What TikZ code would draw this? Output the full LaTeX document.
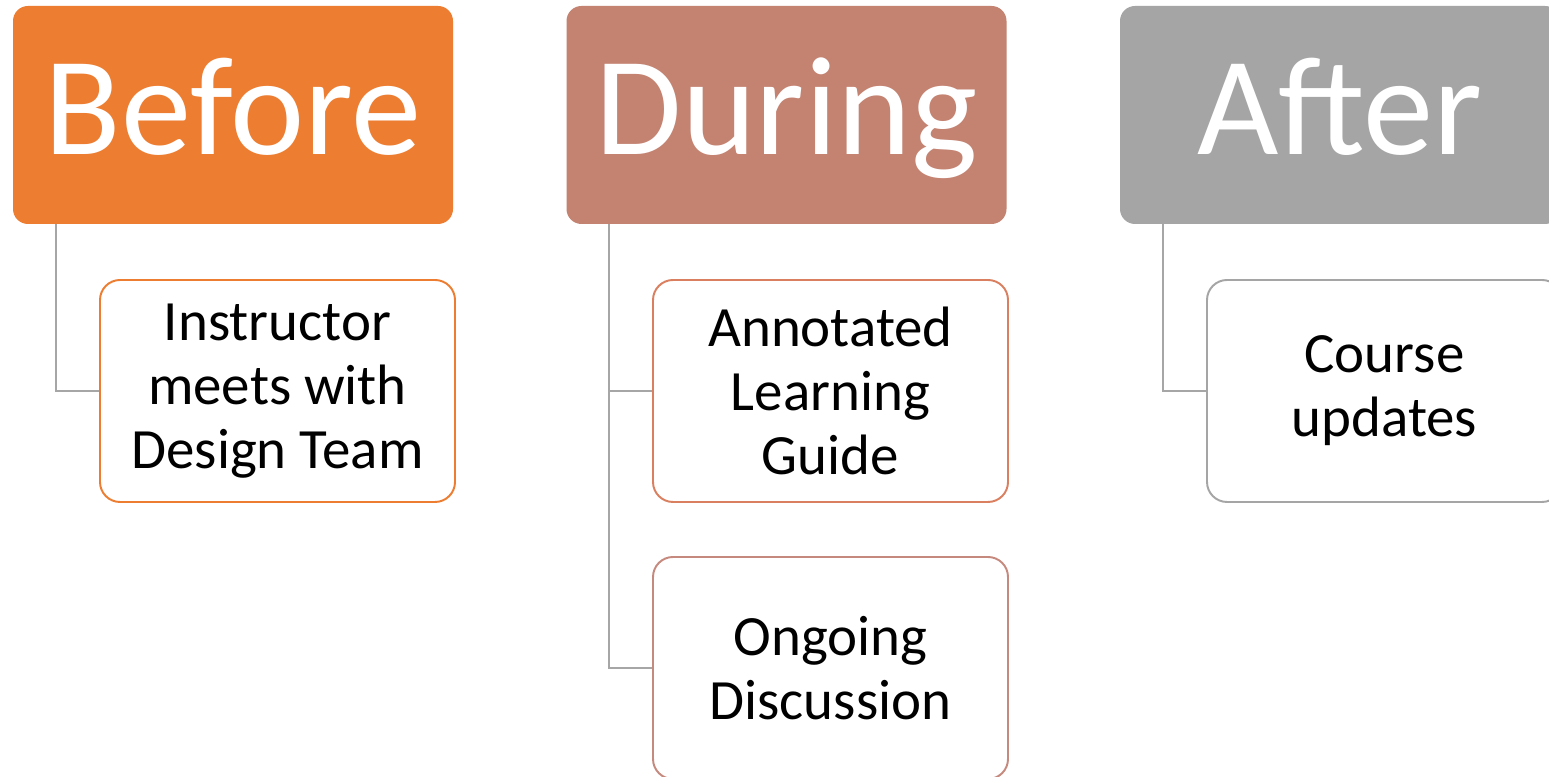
\documentclass[tikz,border=0pt]{standalone}
\usepackage{fontspec}
\setmainfont{Carlito}
\usepackage{xcolor}

\definecolor{beforeC}{HTML}{ED7D31}
\definecolor{duringC}{HTML}{C48271}
\definecolor{afterC}{HTML}{A5A5A5}
\definecolor{guideC}{HTML}{DA7F5F}
\definecolor{talkC}{HTML}{C6897D}
\definecolor{lineC}{HTML}{A6A6A6}

\tikzset{
  phase/.style={rectangle, rounded corners=0.3cm, minimum width=8.8cm, minimum height=4.36cm,
    text height=2.1cm, text depth=0.5cm, text=white, font=\fontsize{80}{96}\selectfont},
  task/.style={rectangle, rounded corners=0.4cm, minimum width=7.1cm, minimum height=4.44cm,
    fill=white, line width=1.1pt, align=center, font=\fontsize{32.4}{36.4}\selectfont},
  link/.style={lineC, line width=1.1pt}
}

\begin{document}
\begin{tikzpicture}
\path[use as bounding box, clip] (0,0) rectangle (30.98,15.54);
\fill[white] (0,0) rectangle (30.98,15.54);

% phase headers
\node[phase, fill=beforeC] (before) at (4.66,13.24) {Before};
\node[phase, fill=duringC] (during) at (15.73,13.24) {During};
\node[phase, fill=afterC] (after) at (26.8,13.24) {After};

% tasks under each phase
\node[task, draw=beforeC] (meet) at (5.55,7.72) {Instructor\\meets with\\Design Team};
\node[task, draw=guideC] (guide) at (16.61,7.72) {Annotated\\Learning\\Guide};
\node[task, draw=talkC] (talk) at (16.61,2.18) {Ongoing\\Discussion};
\node[task, draw=afterC] (update) at (27.69,7.72) {Course\\updates};

% connectors
\draw[link] ([xshift=0.86cm]before.south west) |- (meet.west);
\draw[link] ([xshift=0.86cm]during.south west) |- (guide.west);
\draw[link] ([xshift=0.86cm]during.south west) |- (talk.west);
\draw[link] ([xshift=0.86cm]after.south west) |- (update.west);
\end{tikzpicture}
\end{document}
